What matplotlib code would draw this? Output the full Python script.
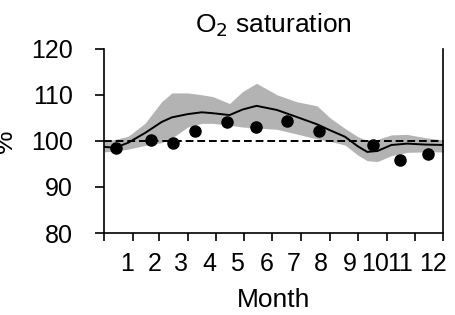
import numpy as np
import matplotlib
matplotlib.use("Agg")
import matplotlib.pyplot as plt

plt.rcParams["font.family"] = ["Liberation Sans", "DejaVu Sans"]

# observed monthly values (day of year, %)
obs_day = [12.6, 50.5, 74.4, 97.7, 131.7, 163.9, 197.2, 231.1, 289.1, 317.8, 348.6]
obs_val = [98.35, 100.1, 99.6, 102.1, 104.0, 103.0, 104.35, 102.2, 99.1, 95.95, 97.2]

# climatology mean and spread (day of year, %)
clim_day = [0, 12, 26, 44, 62, 73, 90, 105, 117, 135, 149, 164, 186, 207,
            229, 243, 259, 273, 283, 294, 309, 326, 345, 365]
clim_mean = [98.7, 98.5, 99.6, 101.7, 104.1, 105.1, 105.8, 106.2, 106.0, 105.6,
             106.8, 107.6, 106.7, 105.2, 103.6, 102.3, 100.9, 98.8, 97.6, 97.8,
             99.1, 99.4, 99.2, 99.1]
clim_hi = [99.9, 100.3, 101.0, 103.8, 108.5, 110.4, 110.4, 110.0, 109.6, 108.1,
           110.7, 112.5, 110.0, 108.5, 107.6, 105.0, 102.7, 100.9, 100.1, 100.3,
           101.3, 101.4, 100.7, 100.2]
clim_lo = [97.6, 97.8, 98.2, 99.0, 99.6, 100.6, 103.0, 103.8, 103.8, 103.4,
           103.0, 102.8, 102.5, 101.5, 100.4, 99.9, 99.1, 96.9, 95.7, 95.5,
           96.8, 97.5, 97.6, 97.6]

month_edges = [0, 31, 59, 90, 120, 151, 181, 212, 243, 273, 304, 334, 365]
month_labels = [str(m) for m in range(1, 13)]
label_days = [24.4, 54, 82.7, 113.8, 142.5, 174.7, 204, 233.7, 264, 291, 318.5, 353.5]

fig = plt.figure(figsize=(4.55, 3.15), dpi=100)
ax = fig.add_axes([0.2286, 0.2603, 0.7461, 0.5851])

ax.fill_between(clim_day, clim_lo, clim_hi, color="#b3b3b3", lw=0)
ax.plot(clim_day, clim_mean, color="black", lw=1.4)
ax.axhline(100, color="black", lw=1.4, ls=(0, (4, 2)))
ax.plot(obs_day, obs_val, "o", color="black", ms=8)

ax.set_xlim(0, 365)
ax.set_ylim(80, 120)
ax.set_yticks([80, 90, 100, 110, 120])
ax.set_xticks(month_edges)
ax.set_xticklabels([])
ax.set_xticks(label_days, minor=True)
ax.set_xticklabels(month_labels, minor=True)
ax.tick_params(axis="x", which="major", length=6, width=1.2, direction="out")
ax.tick_params(axis="x", which="minor", length=0, pad=14, labelsize=18)
ax.tick_params(axis="y", length=6.5, width=1.2, pad=16, labelsize=18)

ax.spines["top"].set_visible(False)
for s in ["left", "right", "bottom"]:
    ax.spines[s].set_linewidth(1.2)

ax.set_title("O$_2$ saturation", fontsize=19, pad=12)
ax.set_xlabel("Month", fontsize=19, labelpad=8)
ax.set_ylabel("%", fontsize=19)
ax.yaxis.set_label_coords(-0.255, 0.5)

fig.savefig("out.png", dpi=100)
